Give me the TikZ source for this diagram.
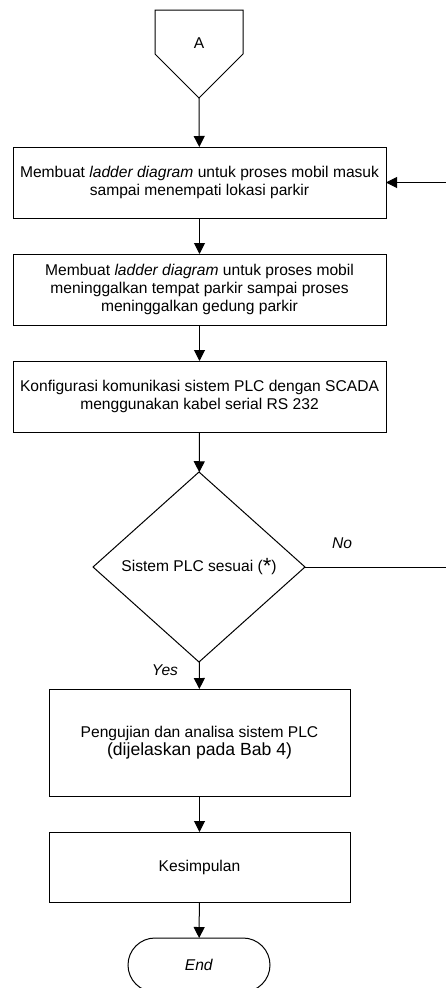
\documentclass[tikz,border=0pt]{standalone}
\usepackage{fontspec}
\setmainfont{Liberation Sans}
\usetikzlibrary{shapes.geometric,arrows.meta}
\tikzset{
    flowtext/.style={font=\fontsize{15.6}{18.3}\selectfont},
    flowbox/.style={draw, rectangle, inner sep=0pt, outer sep=0pt, align=center, flowtext},
    decision/.style={draw, diamond, inner sep=0pt, outer sep=0pt, aspect=1.12, minimum width=212pt, minimum height=190pt, flowtext},
    terminal/.style={draw, rectangle, rounded corners=27pt, inner sep=0pt, outer sep=0pt, minimum width=142pt, minimum height=54pt, flowtext},
    flowarrow/.style={-{Triangle[width=11pt,length=11pt]}},
    branchlabel/.style={flowtext, font=\fontsize{15.6}{18.3}\selectfont\itshape},
}
\newcommand{\plcstar}{\raisebox{-2pt}{\fontsize{22}{22}\selectfont *}}

\begin{document}
\begin{tikzpicture}[x=1pt, y=-1pt, line width=1pt]
        %page frame
        \useasboundingbox (0,0) rectangle (446,988);
        \clip (0,0) rectangle (446,988);
        %off-page connector
        \draw (155,10) -- (243,10) -- (243,54) -- (199,98) -- (155,54) -- cycle;
        \node[flowtext] (conA) at (199,43) {A};
        \coordinate (conAtip) at (199,98);
        %process boxes
        \node[flowbox, minimum width=373pt, minimum height=71pt] (mk1) at (199.5,182.5)
            {Membuat \textit{ladder diagram} untuk proses mobil masuk\\ sampai menempati lokasi parkir};
        \node[flowbox, minimum width=373pt, minimum height=71pt] (mk2) at (199.5,289.5)
            {Membuat \textit{ladder diagram} untuk proses mobil\\ meninggalkan tempat parkir sampai proses\\ meninggalkan gedung parkir};
        \node[flowbox, minimum width=373pt, minimum height=71pt] (konfig) at (199.5,396.5)
            {Konfigurasi komunikasi sistem PLC dengan SCADA\\ menggunakan kabel serial RS 232};
        %decision
        \node[decision] (cek) at (199,567) {Sistem PLC sesuai (\plcstar)};
        \node[branchlabel] (no) at (342,543) {No};
        \node[branchlabel] (yes) at (165,670) {Yes};
        %testing and conclusion
        \node[flowbox, minimum width=301pt, minimum height=107pt] (uji) at (199.5,742.5)
            {Pengujian dan analisa sistem PLC\\ {\fontsize{17.6}{20}\selectfont(dijelaskan pada Bab 4)}};
        \node[flowbox, minimum width=301pt, minimum height=70pt] (simpul) at (199.5,867) {Kesimpulan};
        \node[terminal] (akhir) at (199,965) {\textit{End}};
        %connectors
        \draw[flowarrow] (conAtip) -- (mk1);
        \draw[flowarrow] (mk1) -- (mk2);
        \draw[flowarrow] (mk2) -- (konfig);
        \draw[flowarrow] (konfig) -- (cek);
        \draw[flowarrow] (cek) -- (uji);
        \draw[flowarrow] (uji) -- (simpul);
        \draw[flowarrow] (simpul) -- (akhir);
        %loop back when not suitable
        \coordinate (loopright) at (470,567);
        \draw[flowarrow] (cek.east) -- (loopright) |- (mk1.east);
    \end{tikzpicture}
\end{document}
